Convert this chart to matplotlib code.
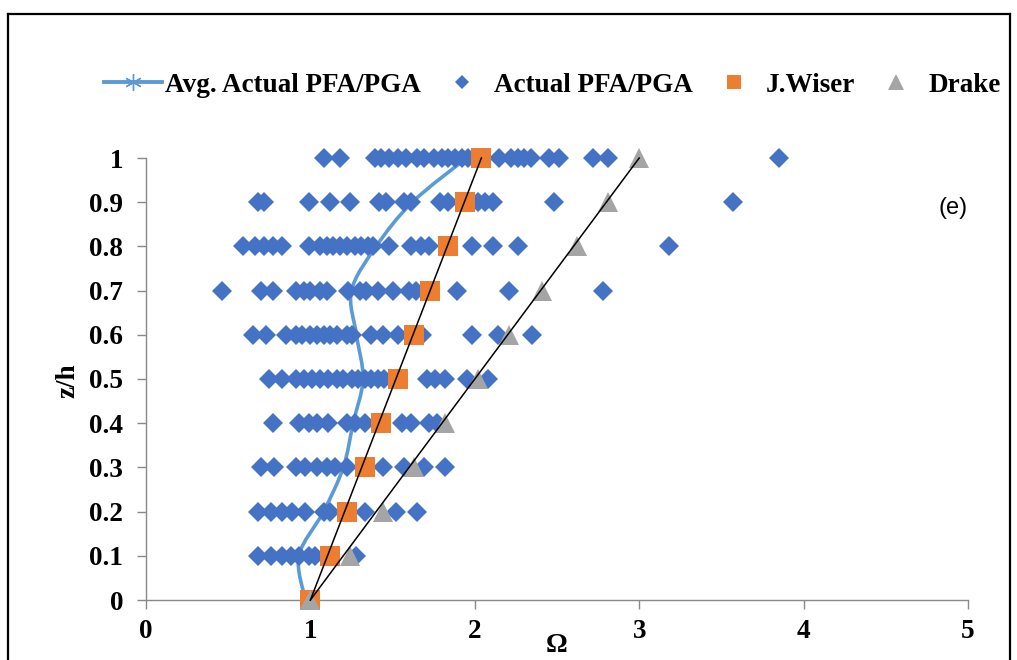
"""Floor acceleration ratio versus relative height, panel (e)."""

import matplotlib

matplotlib.use("Agg")
import matplotlib.pyplot as plt
import numpy as np
from matplotlib.lines import Line2D
from matplotlib.patches import PathPatch
from matplotlib.path import Path

# ---- data ------------------------------------------------------------------
LEVELS = [0.0, 0.1, 0.2, 0.3, 0.4, 0.5, 0.6, 0.7, 0.8, 0.9, 1.0]

ACTUAL = {
    1.0: [1.08, 1.18, 1.39, 1.43, 1.48, 1.53, 1.58, 1.65, 1.69, 1.75, 1.80,
          1.84, 1.88, 1.92, 1.96, 2.00, 2.15, 2.22, 2.26, 2.30, 2.34, 2.45,
          2.51, 2.72, 2.81, 3.85],
    0.9: [0.68, 0.72, 0.99, 1.12, 1.24, 1.42, 1.46, 1.57, 1.61, 1.79, 1.84,
          2.02, 2.06, 2.11, 2.48, 3.57],
    0.8: [0.59, 0.66, 0.72, 0.77, 0.83, 0.99, 1.06, 1.10, 1.14, 1.18, 1.22,
          1.27, 1.31, 1.35, 1.38, 1.48, 1.61, 1.67, 1.72, 1.98, 2.11, 2.26,
          3.18],
    0.7: [0.46, 0.70, 0.77, 0.91, 0.96, 1.00, 1.06, 1.10, 1.23, 1.30, 1.34,
          1.41, 1.50, 1.60, 1.64, 1.89, 2.21, 2.78],
    0.6: [0.65, 0.73, 0.85, 0.91, 0.95, 1.00, 1.04, 1.08, 1.12, 1.16, 1.22,
          1.25, 1.37, 1.44, 1.53, 1.68, 1.98, 2.14, 2.35],
    0.5: [0.75, 0.83, 0.91, 0.96, 1.01, 1.06, 1.11, 1.16, 1.20, 1.25, 1.29,
          1.33, 1.37, 1.41, 1.45, 1.71, 1.76, 1.82, 1.95, 2.08],
    0.4: [0.77, 0.93, 0.99, 1.04, 1.11, 1.22, 1.27, 1.33, 1.56, 1.61, 1.72,
          1.77],
    0.3: [0.70, 0.78, 0.91, 0.97, 1.04, 1.10, 1.15, 1.22, 1.44, 1.57, 1.69,
          1.82],
    0.2: [0.68, 0.76, 0.83, 0.89, 0.97, 1.08, 1.12, 1.33, 1.52, 1.65],
    0.1: [0.68, 0.76, 0.83, 0.88, 0.93, 0.99, 1.03, 1.28],
}

AVG_ACTUAL = [0.97, 0.93, 1.08, 1.20, 1.26, 1.32, 1.28, 1.25, 1.40, 1.62, 1.95]
J_WISER = [1.00, 1.12, 1.22, 1.33, 1.43, 1.53, 1.63, 1.73, 1.84, 1.94, 2.04]
DRAKE = [1.00, 1.24, 1.44, 1.63, 1.82, 2.02, 2.21, 2.41, 2.62, 2.81, 3.00]

X_TICKS = [0, 1, 2, 3, 4, 5]
Y_TICKS = [0, 0.1, 0.2, 0.3, 0.4, 0.5, 0.6, 0.7, 0.8, 0.9, 1]
Y_LABELS = ["0", "0.1", "0.2", "0.3", "0.4", "0.5", "0.6", "0.7", "0.8",
            "0.9", "1"]

BLUE = "#4472C4"
LINE_BLUE = "#5B9BD5"
ORANGE = "#ED7D31"
GREY = "#A5A5A5"
AXIS_GREY = "#898989"

SERIF = "Liberation Serif"
FS = 19.5


def smooth_path(xs, ys):
    """Catmull-Rom style Bezier through the points (Excel 'smoothed line')."""
    pts = np.column_stack([xs, ys])
    padded = np.vstack([pts[0], pts, pts[-1]])
    verts = [tuple(pts[0])]
    codes = [Path.MOVETO]
    for i in range(1, len(padded) - 2):
        p0, p1, p2, p3 = padded[i - 1], padded[i], padded[i + 1], padded[i + 2]
        c1 = p1 + (p2 - p0) / 6.0
        c2 = p2 - (p3 - p1) / 6.0
        verts += [tuple(c1), tuple(c2), tuple(p2)]
        codes += [Path.CURVE4] * 3
    return Path(verts, codes)


fig = plt.figure(figsize=(10.17, 6.6), dpi=100)
ax = fig.add_axes([146 / 1017, 1 - 600 / 660, 822 / 1017, 442 / 660])

# average line (under the scatter)
ax.add_patch(PathPatch(smooth_path(AVG_ACTUAL, LEVELS), facecolor="none",
                       edgecolor=LINE_BLUE, linewidth=2.6, zorder=2,
                       clip_on=False))

for level, values in ACTUAL.items():
    ax.plot(values, [level] * len(values), linestyle="none", marker="D",
            markersize=10.5, color=BLUE, markeredgewidth=0, zorder=3,
            clip_on=False)

ax.plot(J_WISER, LEVELS, linestyle="none", marker="s", markersize=14.5,
        color=ORANGE, markeredgewidth=0, zorder=4, clip_on=False)
ax.plot(DRAKE, LEVELS, linestyle="none", marker="^", markersize=15,
        color=GREY, markeredgewidth=0, zorder=5, clip_on=False)

# straight trend lines through first and last estimates
ax.plot([J_WISER[0], J_WISER[-1]], [LEVELS[0], LEVELS[-1]], color="black",
        linewidth=1.1, zorder=6, clip_on=False)
ax.plot([DRAKE[0], DRAKE[-1]], [LEVELS[0], LEVELS[-1]], color="black",
        linewidth=1.1, zorder=6, clip_on=False)

ax.set_xlim(0, 5)
ax.set_ylim(0, 1)
ax.set_xticks(X_TICKS)
ax.set_yticks(Y_TICKS)
ax.set_xticklabels([str(t) for t in X_TICKS])
ax.set_yticklabels(Y_LABELS)
for spine in ("top", "right"):
    ax.spines[spine].set_visible(False)
for spine in ("left", "bottom"):
    ax.spines[spine].set_color(AXIS_GREY)
    ax.spines[spine].set_linewidth(1.0)
ax.tick_params(axis="both", direction="out", color=AXIS_GREY, length=6.5,
               width=1.0)
ax.tick_params(axis="y", pad=10)
ax.tick_params(axis="x", pad=7)
for label in ax.get_xticklabels() + ax.get_yticklabels():
    label.set_fontfamily(SERIF)
    label.set_fontweight("bold")
    label.set_fontsize(FS)

fig.text(557 / 1017, 1 - 652 / 660, "\u03a9", ha="center", va="baseline",
         fontfamily=SERIF, fontweight="bold", fontsize=FS)
fig.text(68 / 1017, 1 - 381 / 660, "z/h", ha="center", va="center",
         rotation=90, fontfamily=SERIF, fontweight="bold", fontsize=FS)
fig.text(953 / 1017, 1 - 208 / 660, "(e)", ha="center", va="center",
         fontfamily="Liberation Sans", fontsize=17)

handles = [
    Line2D([], [], color=LINE_BLUE, linewidth=2.8, marker=(6, 2, 0),
           markersize=12, markeredgewidth=1.0, markeredgecolor=LINE_BLUE),
    Line2D([], [], linestyle="none", marker="D", markersize=7.5,
           color=BLUE, markeredgewidth=0),
    Line2D([], [], linestyle="none", marker="s", markersize=10.5,
           color=ORANGE, markeredgewidth=0),
    Line2D([], [], linestyle="none", marker="^", markersize=11,
           color=GREY, markeredgewidth=0),
]
labels = ["Avg. Actual PFA/PGA", "Actual PFA/PGA", "J.Wiser", "Drake"]
fig.legend(handles, labels, loc="center", ncol=4, frameon=False,
           bbox_to_anchor=(552 / 1017, 1 - 85 / 660),
           prop={"family": SERIF, "weight": "bold", "size": FS},
           handlelength=2.15, handletextpad=0.1, columnspacing=0.45,
           borderaxespad=0)

# outer chart-area frame
frame = dict(color="black", linewidth=1.6, transform=fig.transFigure)
fig.add_artist(Line2D([8 / 1017, 8 / 1017], [0, 1 - 14 / 660], **frame))
fig.add_artist(Line2D([8 / 1017, 1010 / 1017], [1 - 14 / 660, 1 - 14 / 660],
                      **frame))
fig.add_artist(Line2D([1010 / 1017, 1010 / 1017], [0, 1 - 14 / 660], **frame))

fig.savefig("out.png", dpi=100, facecolor="white")
